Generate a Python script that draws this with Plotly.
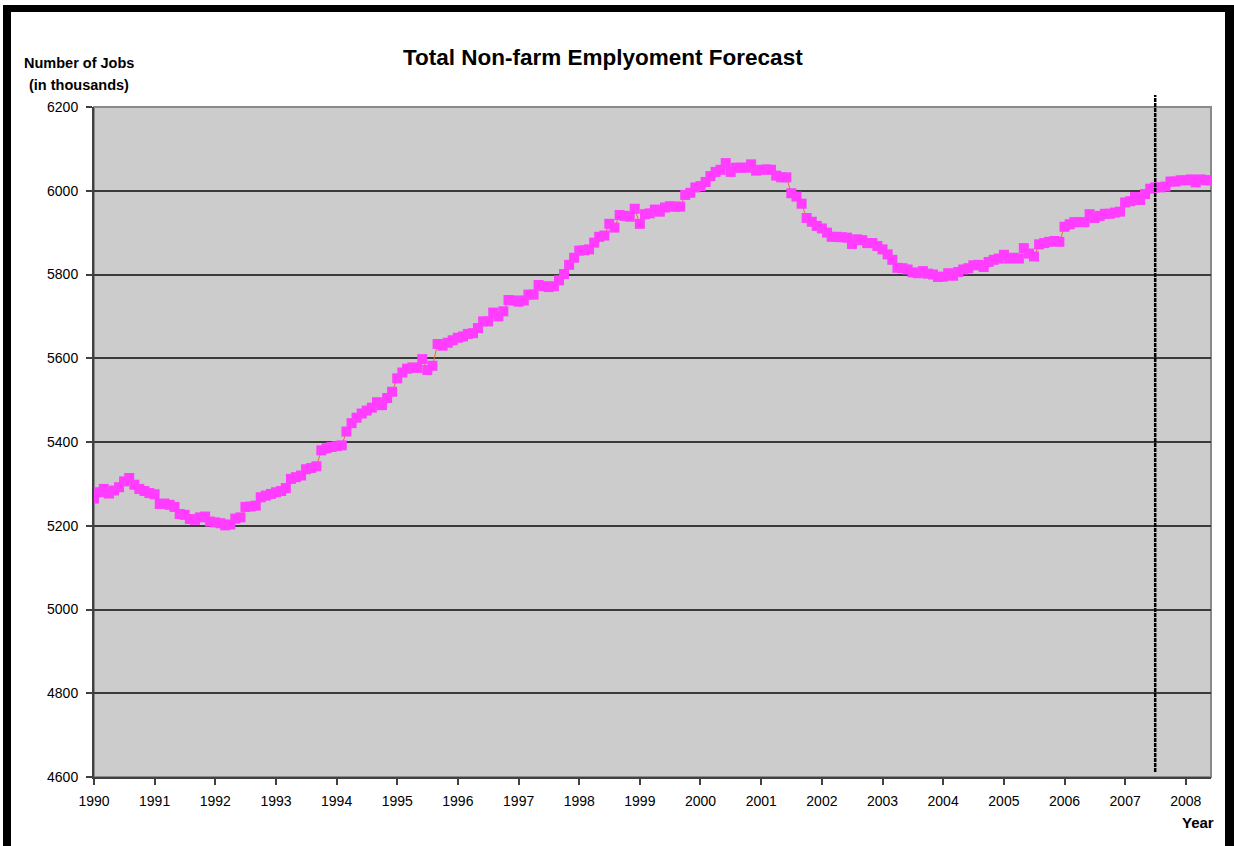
import pandas as pd
import plotly.graph_objects as go

# Monthly total non-farm employment (thousands)
emp_1990 = [5265, 5280, 5288, 5277, 5284, 5292, 5306, 5314, 5298, 5288, 5283, 5278]
emp_1991 = [5275, 5252, 5253, 5250, 5245, 5228, 5226, 5216, 5214, 5220, 5222, 5210]
emp_1992 = [5208, 5206, 5201, 5203, 5217, 5220, 5245, 5246, 5248, 5268, 5272, 5276]
emp_1993 = [5280, 5283, 5290, 5312, 5316, 5320, 5335, 5338, 5342, 5380, 5385, 5388]
emp_1994 = [5390, 5392, 5425, 5445, 5458, 5468, 5475, 5482, 5495, 5488, 5505, 5520]
emp_1995 = [5552, 5566, 5575, 5578, 5577, 5598, 5572, 5582, 5634, 5630, 5637, 5643]
emp_1996 = [5649, 5652, 5658, 5660, 5672, 5688, 5688, 5709, 5700, 5712, 5739, 5738]
emp_1997 = [5735, 5738, 5752, 5752, 5775, 5772, 5770, 5772, 5786, 5801, 5823, 5840]
emp_1998 = [5857, 5858, 5860, 5876, 5890, 5893, 5921, 5912, 5942, 5940, 5938, 5957]
emp_1999 = [5921, 5944, 5946, 5955, 5950, 5960, 5963, 5962, 5962, 5990, 5995, 6008]
emp_2000 = [6011, 6021, 6035, 6045, 6050, 6066, 6045, 6055, 6055, 6055, 6063, 6048]
emp_2001 = [6050, 6051, 6050, 6036, 6032, 6032, 5994, 5986, 5969, 5935, 5926, 5916]
emp_2002 = [5910, 5900, 5890, 5890, 5889, 5888, 5873, 5884, 5882, 5875, 5875, 5868]
emp_2003 = [5860, 5848, 5835, 5816, 5815, 5812, 5805, 5803, 5808, 5802, 5800, 5794]
emp_2004 = [5795, 5803, 5797, 5806, 5812, 5815, 5822, 5823, 5818, 5830, 5835, 5838]
emp_2005 = [5847, 5838, 5840, 5838, 5863, 5850, 5843, 5872, 5875, 5878, 5880, 5878]
emp_2006 = [5914, 5920, 5925, 5925, 5925, 5944, 5935, 5940, 5945, 5945, 5948, 5950]
emp_2007 = [5972, 5975, 5985, 5978, 5992, 6005, 6008, 6008, 6010, 6022, 6022, 6025]
emp_2008 = [6025, 6027, 6020, 6027, 6025, 6025]

values = (emp_1990 + emp_1991 + emp_1992 + emp_1993 + emp_1994 + emp_1995 +
          emp_1996 + emp_1997 + emp_1998 + emp_1999 + emp_2000 + emp_2001 +
          emp_2002 + emp_2003 + emp_2004 + emp_2005 + emp_2006 + emp_2007 + emp_2008)
months = pd.date_range("1990-01-01", periods=len(values), freq="MS")

forecast_start = "2007-07-01"
y_ticks = [4600, 4800, 5000, 5200, 5400, 5600, 5800, 6000, 6200]

W, H = 1234, 846
L, R, T, B = 94, 23, 107, 69
PW, PH = W - L - R, H - T - B

def xp(px):
    return (px - L) / PW

def yp(py):
    return (H - B - py) / PH

FONT = "Liberation Sans, Arial, sans-serif"

fig = go.Figure()
fig.add_trace(go.Scatter(
    x=months, y=values, mode="lines+markers",
    line=dict(color="#E0703A", width=1),
    marker=dict(symbol="square", size=10, color="#FF3CFF", line=dict(width=0)),
    showlegend=False,
))

shapes = [
    # plot area border
    dict(type="rect", xref="paper", yref="paper", x0=0, x1=1, y0=0, y1=1,
         line=dict(color="#8a8a8a", width=2), layer="below"),
    # forecast divider
    dict(type="line", xref="x", yref="paper", x0=forecast_start, x1=forecast_start,
         y0=yp(772), y1=yp(95), line=dict(color="black", width=2.5, dash="4px,1px")),
    # outer black frame
    dict(type="rect", xref="paper", yref="paper", x0=xp(3), x1=xp(11), y0=yp(860), y1=yp(5),
         fillcolor="black", line=dict(width=0)),
    dict(type="rect", xref="paper", yref="paper", x0=xp(3), x1=xp(1240), y0=yp(12), y1=yp(5),
         fillcolor="black", line=dict(width=0)),
    dict(type="rect", xref="paper", yref="paper", x0=xp(1225), x1=xp(1240), y0=yp(860), y1=yp(5),
         fillcolor="black", line=dict(width=0)),
]

annotations = [
    dict(text="<b>Total Non-farm Emplyoment Forecast</b>", xref="paper", yref="paper",
         x=xp(603), y=yp(57), xanchor="center", yanchor="middle", showarrow=False,
         font=dict(family=FONT, size=22.5, color="black")),
    dict(text="<b>Number of Jobs</b>", xref="paper", yref="paper",
         x=xp(79), y=yp(63), xanchor="center", yanchor="middle", showarrow=False,
         font=dict(family=FONT, size=14.5, color="black")),
    dict(text="<b>(in thousands)</b>", xref="paper", yref="paper",
         x=xp(79), y=yp(85), xanchor="center", yanchor="middle", showarrow=False,
         font=dict(family=FONT, size=14.5, color="black")),
    dict(text="<b>Year</b>", xref="paper", yref="paper",
         x=xp(1198), y=yp(822), xanchor="center", yanchor="middle", showarrow=False,
         font=dict(family=FONT, size=15, color="black")),
]

fig.update_layout(
    width=W, height=H,
    margin=dict(l=L, r=R, t=T, b=B, pad=0),
    paper_bgcolor="white",
    plot_bgcolor="#CCCCCC",
    font=dict(family=FONT, size=14, color="black"),
    shapes=shapes,
    annotations=annotations,
    xaxis=dict(
        type="date",
        range=["1990-01-01", "2008-06-01"],
        tick0="1990-01-01", dtick="M12", tickformat="%Y",
        ticks="outside", ticklen=6, tickcolor="#404040", tickwidth=1.5,
        showline=True, linecolor="#404040", linewidth=2,
        showgrid=False, zeroline=False,
        ticklabelstandoff=4,
        tickfont=dict(family=FONT, size=14, color="black"),
    ),
    yaxis=dict(
        range=[4600, 6200],
        tickvals=y_ticks,
        ticks="outside", ticklen=6, tickcolor="#404040", tickwidth=1.5,
        showline=True, linecolor="#404040", linewidth=2,
        showgrid=True, gridcolor="#3a3a3a", gridwidth=1.5,
        zeroline=False,
        ticklabelstandoff=5,
        tickfont=dict(family=FONT, size=14, color="black"),
    ),
)

fig.write_html("out.html",
               config={"displayModeBar": False},
               post_script="document.body.style.margin='0';document.body.style.overflow='hidden';")
